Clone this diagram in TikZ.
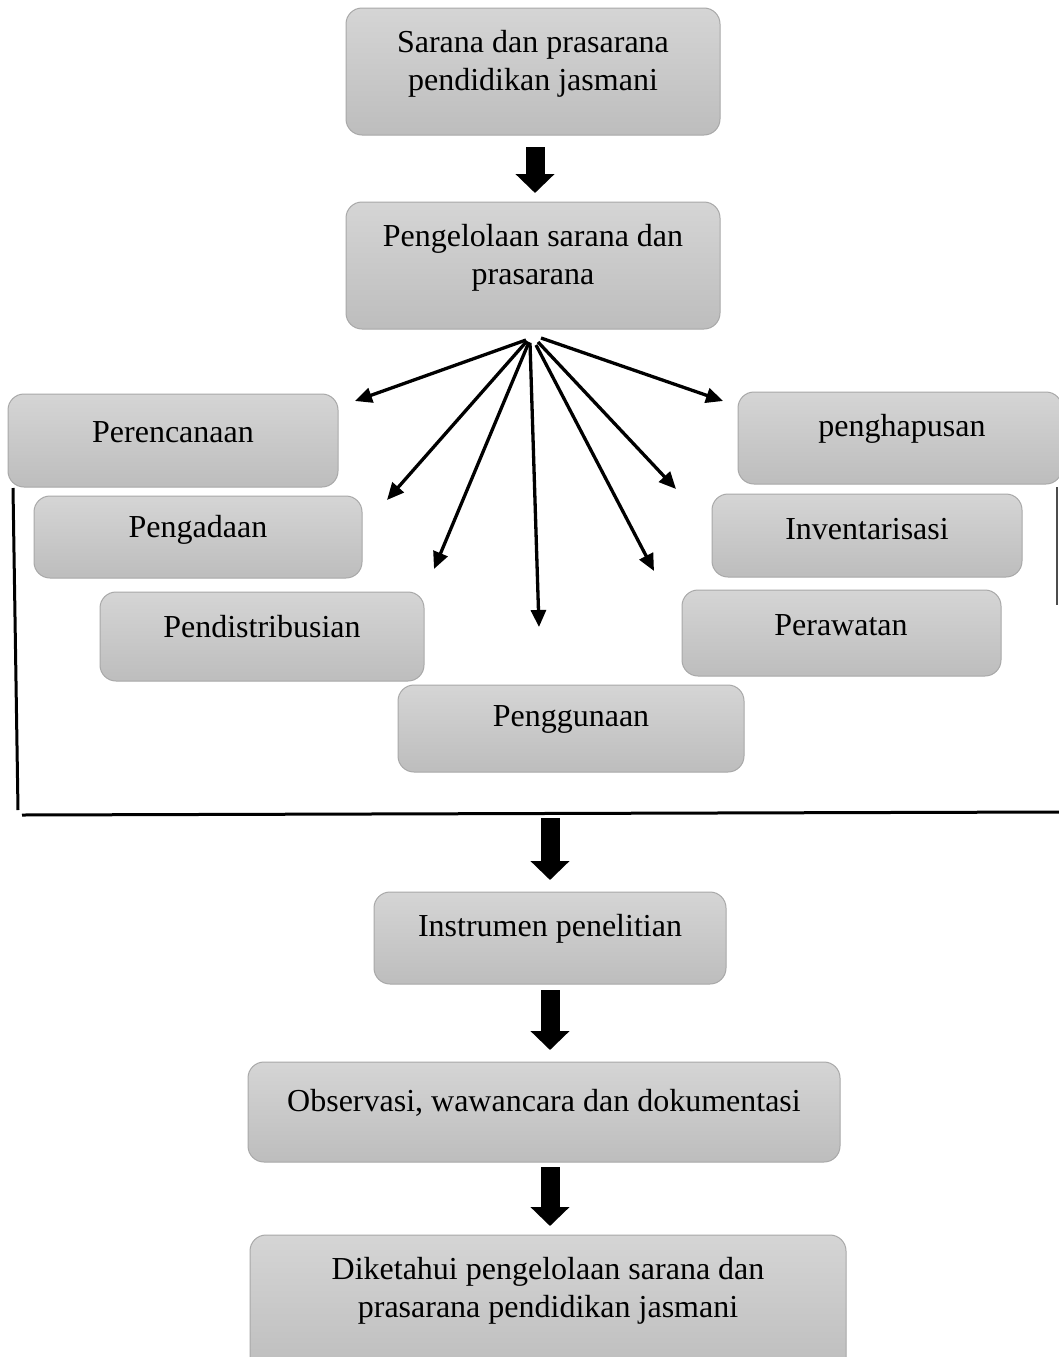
\documentclass[tikz,border=0pt]{standalone}
\usepackage{fontspec}
\setmainfont{Liberation Serif}
\usetikzlibrary{arrows.meta,calc}
\definecolor{boxtop}{HTML}{D5D5D5}
\definecolor{boxbot}{HTML}{BDBDBD}
\definecolor{boxline}{HTML}{A8A8A8}
\begin{document}
\begin{tikzpicture}[x=1pt,y=-1pt,
  box/.style={draw=boxline, line width=1pt, rounded corners=16pt, top color=boxtop, bottom color=boxbot, inner sep=0pt},
  txt/.style={font=\fontsize{32}{38}\selectfont, align=center, inner sep=0pt},
  fan/.style={line width=3.3pt, -{Triangle[length=17pt,width=15pt]}},
  big/.style={line width=19pt, -{Triangle[length=19pt,width=38pt]}},
  bracket/.style={line width=3pt}]
\useasboundingbox (0,0) rectangle (1059,1357);
% boxes
\node[box, minimum width=374pt, minimum height=127pt] (b1) at (533,71.5) {};
\node[box, minimum width=374pt, minimum height=127pt] (b2) at (533,265.5) {};
\node[box, minimum width=330pt, minimum height=93pt] (p1) at (173,440.5) {};
\node[box, minimum width=328pt, minimum height=82pt] (p2) at (198,537) {};
\node[box, minimum width=324pt, minimum height=89pt] (p3) at (262,636.5) {};
\node[box, minimum width=346pt, minimum height=87pt] (p4) at (571,728.5) {};
\node[box, minimum width=324pt, minimum height=92pt] (p5) at (900,438) {};
\node[box, minimum width=310pt, minimum height=83pt] (p6) at (867,535.5) {};
\node[box, minimum width=319pt, minimum height=86pt] (p7) at (841.5,633) {};
\node[box, minimum width=352pt, minimum height=92pt] (b3) at (550,938) {};
\node[box, minimum width=592pt, minimum height=100pt] (b4) at (544,1112) {};
\node[box, minimum width=596pt, minimum height=140pt] (b5) at (548,1305) {};
% texts
\node[txt] (t1) at (533,64) {Sarana dan prasarana\\pendidikan jasmani};
\node[txt] (t2) at (533,258) {Pengelolaan sarana dan\\prasarana};
\node[txt] (t3) at (173,432) {Perencanaan};
\node[txt] (t4) at (198,530) {Pengadaan};
\node[txt] (t5) at (262,627) {Pendistribusian};
\node[txt] (t6) at (571,719) {Penggunaan};
\node[txt] (t7) at (902,429) {penghapusan};
\node[txt] (t8) at (867,529) {Inventarisasi};
\node[txt] (t9) at (841,625) {Perawatan};
\node[txt] (t10) at (550,929) {Instrumen penelitian};
\node[txt] (t11) at (544,1103) {Observasi, wawancara dan dokumentasi};
\node[txt] (t12) at (548,1291) {Diketahui pengelolaan sarana dan\\prasarana pendidikan jasmani};
% fan coordinates
\coordinate (s1) at (526,340); \coordinate (e1) at (355,401);
\coordinate (s2) at (527,341); \coordinate (e2) at (387,500);
\coordinate (s3) at (529,342); \coordinate (e3) at (434,569);
\coordinate (s4) at (530,343); \coordinate (e4) at (539,627);
\coordinate (s5) at (536,345); \coordinate (e5) at (654,571);
\coordinate (s6) at (538,342); \coordinate (e6) at (676,489);
\coordinate (s7) at (541,338); \coordinate (e7) at (723,401);
\foreach \i in {1,...,7} {\draw[fan] (s\i) -- (e\i);}
% big arrows
\coordinate (a1s) at (535,147); \coordinate (a1e) at (535,193);
\coordinate (a2s) at (550,818); \coordinate (a2e) at (550,880);
\coordinate (a3s) at (550,990); \coordinate (a3e) at (550,1050);
\coordinate (a4s) at (550,1167); \coordinate (a4e) at (550,1226);
\draw[big] (a1s) -- (a1e);
\draw[big] (a2s) -- (a2e);
\draw[big] (a3s) -- (a3e);
\draw[big] (a4s) -- (a4e);
% bracket
\coordinate (l1) at (13,488); \coordinate (l2) at (18,810);
\coordinate (h1) at (22,815); \coordinate (h2) at (1060,812);
\coordinate (r1) at (1057,487); \coordinate (r2) at (1057,605);
\draw[bracket] (l1) -- (l2);
\draw[bracket] (h1) -- (h2);
\draw[line width=2pt, black!70] (r1) -- (r2);
\end{tikzpicture}
\end{document}
